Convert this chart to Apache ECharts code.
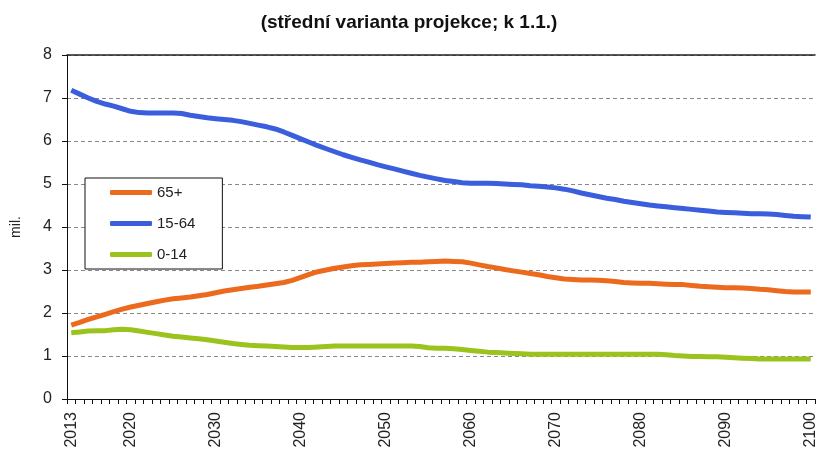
<!DOCTYPE html>
<html>
<head>
<meta charset="utf-8">
<script src="https://cdn.jsdelivr.net/npm/echarts@6/dist/echarts.min.js"></script>
<style>
html, body { margin: 0; padding: 0; background: #fff; }
#chart { width: 818px; height: 452px; }
</style>
</head>
<body>
<div id="chart"></div>
<script>
var years = [];
for (var y = 2013; y <= 2100; y++) years.push(String(y));

var yTicks = [0, 1, 2, 3, 4, 5, 6, 7, 8];

// 65+
var old = [1.72, 1.78, 1.85, 1.91, 1.97, 2.03, 2.09, 2.14, 2.18, 2.22,
    2.26, 2.30, 2.33, 2.35, 2.37, 2.40, 2.43, 2.47, 2.51, 2.54,
    2.57, 2.60, 2.62, 2.65, 2.68, 2.71, 2.76, 2.83, 2.90, 2.96,
    3.00, 3.04, 3.07, 3.10, 3.12, 3.13, 3.14, 3.15, 3.16, 3.17,
    3.18, 3.18, 3.19, 3.20, 3.21, 3.20, 3.19, 3.16, 3.12, 3.08,
    3.05, 3.01, 2.98, 2.95, 2.92, 2.89, 2.85, 2.82, 2.79, 2.78,
    2.77, 2.77, 2.76, 2.75, 2.73, 2.71, 2.70, 2.69, 2.69, 2.68,
    2.67, 2.66, 2.66, 2.64, 2.62, 2.61, 2.60, 2.59, 2.59, 2.58,
    2.57, 2.55, 2.54, 2.52, 2.50, 2.49, 2.49, 2.49];

// 15-64
var working = [7.18, 7.09, 7.00, 6.92, 6.86, 6.81, 6.75, 6.69, 6.66, 6.65,
    6.65, 6.65, 6.65, 6.64, 6.60, 6.57, 6.54, 6.52, 6.50, 6.48,
    6.45, 6.41, 6.37, 6.33, 6.28, 6.21, 6.13, 6.05, 5.97, 5.89,
    5.82, 5.75, 5.68, 5.62, 5.56, 5.51, 5.45, 5.40, 5.35, 5.30,
    5.25, 5.20, 5.16, 5.12, 5.08, 5.06, 5.03, 5.02, 5.02, 5.02,
    5.01, 5.00, 4.99, 4.98, 4.96, 4.95, 4.93, 4.91, 4.88, 4.84,
    4.79, 4.75, 4.71, 4.67, 4.64, 4.60, 4.57, 4.54, 4.51, 4.49,
    4.47, 4.45, 4.43, 4.41, 4.39, 4.37, 4.35, 4.34, 4.33, 4.32,
    4.31, 4.31, 4.30, 4.29, 4.27, 4.25, 4.24, 4.23];

// 0-14
var young = [1.54, 1.56, 1.58, 1.59, 1.59, 1.61, 1.62, 1.61, 1.58, 1.55,
    1.52, 1.49, 1.46, 1.44, 1.42, 1.40, 1.38, 1.35, 1.32, 1.29,
    1.27, 1.25, 1.24, 1.23, 1.22, 1.21, 1.20, 1.20, 1.20, 1.21,
    1.22, 1.23, 1.23, 1.23, 1.23, 1.23, 1.23, 1.23, 1.23, 1.23,
    1.23, 1.22, 1.19, 1.18, 1.18, 1.17, 1.15, 1.13, 1.11, 1.09,
    1.08, 1.07, 1.06, 1.05, 1.04, 1.04, 1.04, 1.04, 1.04, 1.04,
    1.04, 1.04, 1.04, 1.04, 1.04, 1.04, 1.04, 1.04, 1.04, 1.04,
    1.03, 1.01, 1.00, 0.99, 0.99, 0.98, 0.98, 0.97, 0.96, 0.95,
    0.94, 0.93, 0.93, 0.93, 0.93, 0.93, 0.93, 0.93];

var chart = echarts.init(document.getElementById('chart'));

var font = 'Liberation Sans, Arial, sans-serif';

var option = {
    animation: false,
    backgroundColor: '#fff',
    title: {
        text: '(střední varianta projekce; k 1.1.)',
        left: 'center',
        top: 8,
        textStyle: {
            fontFamily: font,
            fontSize: 19,
            fontWeight: 'bold',
            color: '#111'
        }
    },
    legend: {
        orient: 'vertical',
        left: 85,
        top: 178,
        padding: [7, 27, 7, 25],
        itemGap: 16,
        itemWidth: 42,
        itemHeight: 5,
        icon: 'roundRect',
        borderColor: '#111',
        borderWidth: 1,
        backgroundColor: '#fff',
        textStyle: { fontFamily: font, fontSize: 15, color: '#222' },
        data: ['65+', '15-64', '0-14']
    },
    grid: {
        left: 67,
        right: 3,
        top: 55,
        bottom: 53,
        outerBoundsMode: 'none'
    },
    xAxis: [
        {
            type: 'category',
            data: years,
            boundaryGap: true,
            axisLine: { lineStyle: { color: '#111', width: 1 } },
            axisTick: { show: true, interval: 0, length: 5, lineStyle: { color: '#111' } },
            axisLabel: {
                rotate: 90,
                fontFamily: font,
                fontSize: 16,
                color: '#222',
                margin: 13,
                interval: function (idx, val) {
                    return val === '2013' || Number(val) % 10 === 0;
                }
            },
            splitLine: { show: false }
        },
        {
            type: 'category',
            data: years,
            position: 'top',
            axisLine: { show: true, lineStyle: { color: '#222', width: 1.5 } },
            axisTick: { show: false },
            axisLabel: { show: false },
            splitLine: { show: false }
        }
    ],
    yAxis: {
        type: 'value',
        min: yTicks[0],
        max: yTicks[yTicks.length - 1],
        interval: 1,
        name: 'mil.',
        nameLocation: 'middle',
        nameGap: 44,
        nameRotate: 90,
        nameTextStyle: { fontFamily: font, fontSize: 14, color: '#222' },
        axisLine: { show: true, lineStyle: { color: '#111', width: 1 } },
        axisTick: { show: true, length: 5, lineStyle: { color: '#111' } },
        axisLabel: { fontFamily: font, fontSize: 16, color: '#222', margin: 15 },
        splitLine: { show: true, lineStyle: { color: '#888', type: [4, 3], width: 1 } }
    },
    series: [
        {
            name: '65+',
            type: 'line',
            data: old,
            showSymbol: false,
            symbol: 'none',
            itemStyle: { color: '#EC6A1E' },
            lineStyle: { color: '#EC6A1E', width: 5 }
        },
        {
            name: '15-64',
            type: 'line',
            data: working,
            showSymbol: false,
            symbol: 'none',
            itemStyle: { color: '#3A5EDC' },
            lineStyle: { color: '#3A5EDC', width: 5 }
        },
        {
            name: '0-14',
            type: 'line',
            data: young,
            showSymbol: false,
            symbol: 'none',
            itemStyle: { color: '#9AC31E' },
            lineStyle: { color: '#9AC31E', width: 5 }
        }
    ]
};

chart.setOption(option);
</script>
</body>
</html>
